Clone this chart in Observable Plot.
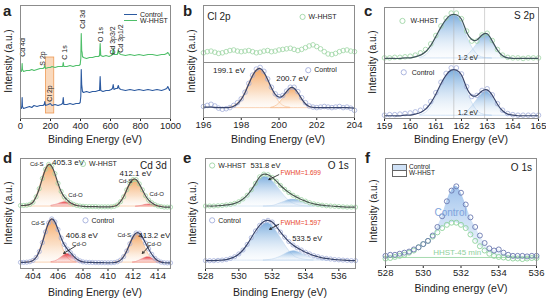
<!DOCTYPE html>
<html><head><meta charset="utf-8">
<script src="https://cdn.jsdelivr.net/npm/d3@7"></script>
<script src="https://cdn.jsdelivr.net/npm/@observablehq/plot@0.6"></script>
<style>
body{margin:0;background:#fff}
#root{position:relative;width:546px;height:298px;overflow:hidden;background:#fff;font-family:'Liberation Sans',Arial,Helvetica,sans-serif;color:#222}
.lbl{position:absolute;white-space:nowrap;line-height:1}
.letter{position:absolute;font-weight:bold;font-size:15px;line-height:1}
.ytitle{position:absolute;font-size:10px;white-space:nowrap;transform:translate(-50%,-50%) rotate(-90deg);line-height:1}
.xtitle{position:absolute;font-size:10.5px;white-space:nowrap;transform:translate(-50%,-50%);line-height:1}
.sw{position:absolute}
</style></head><body>
<div id="root">
<svg width="0" height="0" style="position:absolute">
<defs>
<linearGradient id="gOrange" x1="0" y1="0" x2="0" y2="1">
<stop offset="0" stop-color="#f29a4e" stop-opacity="0.9"/>
<stop offset="0.6" stop-color="#f8c79b" stop-opacity="0.55"/>
<stop offset="1" stop-color="#fdeee0" stop-opacity="0.2"/>
</linearGradient>
<linearGradient id="gRed" x1="0" y1="0" x2="0" y2="1">
<stop offset="0" stop-color="#e0202a" stop-opacity="0.95"/>
<stop offset="1" stop-color="#f7b7b7" stop-opacity="0.15"/>
</linearGradient>
<linearGradient id="gBlue" x1="0" y1="0" x2="0" y2="1">
<stop offset="0" stop-color="#5d9ad6" stop-opacity="0.8"/>
<stop offset="1" stop-color="#dbe9f7" stop-opacity="0.1"/>
</linearGradient>
<linearGradient id="gF" x1="0" y1="0" x2="0" y2="1">
<stop offset="0" stop-color="#93bbea" stop-opacity="0.9"/>
<stop offset="1" stop-color="#e3eefa" stop-opacity="0.5"/>
</linearGradient>
</defs>
</svg>
</div>
<script>
// ---------------- DATA ----------------
// (a) survey: energy (eV) and intensity (a.u.)
const surveyEnergy = [0,6,9,11,13,20,40,60,75,90,110,130,150,158,162,166,185,199,210,230,250,270,281,285,289,310,330,350,370,390,398,402,405,408,411,413,420,440,460,480,500,520,527,531,535,550,570,590,605,613,618,623,635,645,652,658,670,700,730,760,790,820,850,880,910,940,960,975,982,988,994,1000];
const surveyControl = [11,10,13,21,12,10,11,12,11,13,12,13,13,14,17,13,14,15,13,14,13,14,15,21,14,14,15,14,15,15,16,22,49,34,30,27,26,27,26,27,27,28,28,42,28,27,28,28,29,30,34,29,30,30,33,30,29,28,29,28,29,28,29,28,29,28,29,30,32,30,28,30];
const surveyWhhst = [47,47,50,55,49,47,48,48,49,48,49,50,50,51,53,50,51,51,52,51,52,52,52,56,52,52,53,52,53,53,54,60,85,68,66,62,61,60,61,61,62,62,63,75,63,62,63,62,63,64,70,64,64,64,68,65,64,63,64,63,64,63,64,64,63,64,64,65,66,65,63,64];
const surveyPeaks = [
  {t:"Cd 4d", x:13, y:71}, {t:"S 2p", x:150, y:60}, {t:"C 1s", x:292, y:66},
  {t:"Cd 3d", x:413, y:99}, {t:"O 1s", x:534, y:84}, {t:"Cd 3p3/2", x:618, y:78}, {t:"Cd 3p1/2", x:665, y:80}
];
const surveyCl = [{t:"Cl 2p", x:197, y:25}];
const clRegion = [{x1:170, x2:225, y1:5, y2:61}];

// (b) Cl 2p
const clEnergy = [196,196.2,196.4,196.6,196.8,197,197.2,197.4,197.6,197.8,198,198.2,198.4,198.6,198.8,199,199.2,199.4,199.6,199.8,200,200.2,200.4,200.6,200.8,201,201.2,201.4,201.6,201.8,202,202.2,202.4,202.6,202.8,203,203.2,203.4,203.6,203.8,204];
const clWhhst = [.17,.19,.20,.18,.16,.17,.19,.21,.22,.20,.19,.20,.21,.19,.17,.18,.20,.21,.19,.20,.22,.23,.24,.25,.23,.21,.23,.26,.29,.31,.28,.24,.19,.15,.14,.16,.19,.21,.22,.20,.19];
const clControl = [.20,.22,.24,.21,.17,.15,.16,.18,.22,.27,.34,.46,.62,.77,.88,.91,.84,.70,.55,.43,.38,.40,.48,.55,.55,.47,.36,.27,.21,.19,.18,.19,.20,.19,.18,.19,.20,.18,.19,.17,.13];
const clFit = [.19,.19,.19,.185,.18,.18,.18,.185,.205,.25,.33,.45,.61,.76,.86,.89,.82,.69,.54,.42,.37,.39,.47,.54,.53,.45,.34,.25,.20,.185,.18,.18,.18,.18,.18,.18,.18,.18,.18,.175,.17];
const clBase = 0.17;
const clComp1 = [[197.4,.184],[197.6,.205],[197.8,.25],[198,.33],[198.2,.45],[198.4,.61],[198.6,.76],[198.8,.86],[199,.89],[199.2,.82],[199.4,.685],[199.6,.53],[199.8,.39],[200,.29],[200.2,.22],[200.4,.19],[200.6,.18]];
const clComp2 = [[199.6,.178],[199.8,.20],[200,.25],[200.2,.34],[200.4,.45],[200.6,.53],[200.8,.53],[201,.45],[201.2,.34],[201.4,.25],[201.6,.20],[201.8,.178]];
const clTopLabels = [{t:"Cl 2p", x:196.2, y:.80}];
const clTopLegend = [{t:"W-HHST", x:201.25, y:.80}];
const clBotLabels = [{t:"199.1 eV", x:197.35, y:.86}, {t:"200.7 eV", x:200.7, y:.71}];
const clBotLegend = [{t:"Control", x:201.55, y:.86}];

// (c) S 2p
const sEnergy = [159,159.2,159.4,159.6,159.8,160,160.2,160.4,160.6,160.8,161,161.2,161.4,161.6,161.8,162,162.2,162.4,162.6,162.8,163,163.2,163.4,163.6,163.8,164,164.2,164.4,164.6,164.8,165];
const sTopFit = [.09,.09,.09,.09,.10,.10,.12,.15,.21,.32,.48,.65,.79,.87,.87,.79,.56,.43,.42,.51,.53,.40,.24,.14,.10,.09,.09,.09,.09,.09,.09];
const sTopDots = [.10,.10,.11,.11,.12,.13,.15,.19,.25,.35,.50,.67,.81,.90,.90,.80,.58,.40,.40,.51,.54,.41,.25,.15,.11,.10,.10,.09,.10,.10,.10];
const sBotFit = [.05,.05,.05,.05,.06,.06,.08,.11,.17,.28,.44,.63,.79,.88,.88,.79,.56,.42,.42,.50,.52,.42,.26,.14,.08,.06,.05,.05,.05,.05,.05];
const sBotDots = [.06,.07,.07,.08,.09,.10,.12,.15,.21,.31,.47,.66,.82,.92,.92,.81,.58,.40,.42,.51,.54,.43,.27,.15,.09,.07,.06,.06,.06,.06,.06];
const sTopBase = 0.09, sBotBase = 0.05;
const sTopMain = [[160.4,.10],[160.6,.14],[160.8,.24],[161,.40],[161.2,.60],[161.4,.76],[161.6,.85],[161.8,.85],[162,.75],[162.2,.50],[162.4,.30],[162.6,.17],[162.8,.11],[163,.095],[163.2,.09]];
const sTopSecond = [[162,.10],[162.2,.13],[162.4,.22],[162.6,.34],[162.8,.48],[163,.52],[163.2,.40],[163.4,.24],[163.6,.14],[163.8,.10],[164,.09]];
const sBotMain = [[160.4,.06],[160.6,.10],[160.8,.20],[161,.37],[161.2,.58],[161.4,.75],[161.6,.86],[161.8,.86],[162,.76],[162.2,.52],[162.4,.30],[162.6,.15],[162.8,.08],[163,.06],[163.2,.05]];
const sBotSecond = [[162,.06],[162.2,.11],[162.4,.21],[162.6,.33],[162.8,.45],[163,.49],[163.2,.39],[163.4,.23],[163.6,.12],[163.8,.07],[164,.05]];
const sPeakLines = [161.7, 162.9];
const sTopLabels = [{t:"S 2p", x:164.45, y:.86}];
const sSplit = [{t:"1.2 eV", x:162.25, y:.11}];
const sTopLegend = [{t:"W-HHST", x:159.7, y:.76}];
const sBotLegend = [{t:"Control", x:159.75, y:.84}];

// (d) Cd 3d
const cdEnergy = [403,403.25,403.5,403.75,404,404.25,404.5,404.75,405,405.25,405.5,405.75,406,406.25,406.5,406.75,407,407.25,407.5,407.75,408,408.25,408.5,408.75,409,409.25,409.5,409.75,410,410.25,410.5,410.75,411,411.25,411.5,411.75,412,412.25,412.5,412.75,413,413.25,413.5,413.75,414,414.25,414.5,414.75,415];
const cdTopFit = [.13,.13,.135,.15,.19,.29,.44,.63,.80,.89,.855,.72,.54,.39,.29,.23,.18,.15,.13,.12,.115,.11,.11,.11,.11,.105,.105,.105,.105,.105,.115,.14,.20,.29,.42,.54,.61,.61,.53,.42,.31,.23,.18,.145,.12,.11,.10,.10,.10];
const cdBotFit = [.11,.11,.113,.121,.144,.198,.302,.463,.654,.816,.885,.833,.696,.545,.427,.347,.282,.221,.169,.137,.118,.112,.11,.108,.106,.105,.104,.103,.102,.103,.106,.119,.15,.212,.314,.442,.565,.634,.63,.56,.455,.349,.254,.183,.137,.114,.103,.10,.10];
const cdTopBase = 0.11, cdBotBase = 0.105;
const cdTopS1 = [[403.25,.122],[403.5,.128],[403.75,.148],[404,.194],[404.25,.286],[404.5,.436],[404.75,.626],[405,.799],[405.25,.888],[405.5,.848],[405.75,.701],[406,.51],[406.25,.34],[406.5,.224],[406.75,.162],[407,.134],[407.25,.124]];
const cdTopO1 = [[405.5,.126],[405.75,.137],[406,.154],[406.25,.175],[406.5,.189],[406.75,.187],[407,.171],[407.25,.15],[407.5,.134],[407.75,.125]];
const cdTopS2 = [[410.25,.104],[410.5,.115],[410.75,.141],[411,.197],[411.25,.291],[411.5,.416],[411.75,.539],[412,.613],[412.25,.604],[412.5,.517],[412.75,.389],[413,.269],[413.25,.183],[413.5,.134],[413.75,.112],[414,.103]];
const cdTopO2 = [[412.25,.106],[412.5,.114],[412.75,.127],[413,.142],[413.25,.15],[413.5,.146],[413.75,.133],[414,.119],[414.25,.108],[414.5,.103]];
const cdBotS1 = [[403.5,.113],[403.75,.121],[404,.144],[404.25,.198],[404.5,.302],[404.75,.463],[405,.654],[405.25,.816],[405.5,.88],[405.75,.816],[406,.654],[406.25,.463],[406.5,.302],[406.75,.198],[407,.144],[407.25,.121],[407.5,.113]];
const cdBotO1 = [[405.5,.115],[405.75,.127],[406,.152],[406.25,.192],[406.5,.235],[406.75,.259],[407,.248],[407.25,.21],[407.5,.166],[407.75,.135],[408,.118]];
const cdBotS2 = [[410.5,.106],[410.75,.119],[411,.15],[411.25,.212],[411.5,.314],[411.75,.442],[412,.559],[412.25,.618],[412.5,.592],[412.75,.493],[413,.363],[413.25,.249],[413.5,.17],[413.75,.128],[414,.109],[414.25,.103]];
const cdBotO2 = [[412,.106],[412.25,.116],[412.5,.138],[412.75,.167],[413,.192],[413.25,.20],[413.5,.184],[413.75,.155],[414,.128],[414.25,.111],[414.5,.103]];
const cdTopSmall = [{t:"Cd-S", x:404.3, y:.90}, {t:"Cd-S", x:411.4, y:.59}, {t:"Cd-O", x:407.4, y:.33}, {t:"Cd-O", x:413.9, y:.35}];
const cdTopValues = [{t:"405.3 eV", x:406.8, y:.93}, {t:"412.1 eV", x:412.2, y:.73}];
const cdTopTitle = [{t:"Cd 3d", x:414.7, y:.87}];
const cdTopLegend = [{t:"W-HHST", x:408.0, y:.90}];
const cdBotSmall = [{t:"Cd-S", x:404.4, y:.82}, {t:"Cd-O", x:407.7, y:.44}, {t:"Cd-S", x:411.3, y:.59}, {t:"Cd-O", x:413.7, y:.44}];
const cdBotValues = [{t:"406.8 eV", x:407.9, y:.59}, {t:"413.2 eV", x:413.7, y:.59}];
const cdBotLegend = [{t:"Control", x:408.2, y:.86}];
const cdBotArrows = [{x1:407.4, y1:.40, x2:406.45, y2:.27}, {x1:413.3, y1:.40, x2:412.75, y2:.27}];

// (e) O 1s
const oEnergy = [528,528.25,528.5,528.75,529,529.25,529.5,529.75,530,530.25,530.5,530.75,531,531.25,531.5,531.75,532,532.25,532.5,532.75,533,533.25,533.5,533.75,534,534.25,534.5,534.75,535,535.25,535.5,535.75,536,536.25,536.5,536.75,537];
const oTopFit = [.12,.12,.12,.125,.13,.14,.15,.17,.20,.25,.32,.42,.54,.66,.71,.70,.65,.58,.50,.43,.37,.32,.28,.24,.21,.18,.16,.145,.135,.125,.12,.115,.11,.105,.10,.10,.10];
const oBotFit = [.14,.14,.14,.145,.15,.16,.18,.21,.26,.33,.43,.55,.67,.77,.84,.86,.83,.75,.65,.56,.48,.42,.37,.33,.29,.26,.23,.21,.19,.18,.17,.16,.155,.15,.145,.14,.14];
const oTopBase = 0.11, oBotBase = 0.14;
const oTopMain = [[529,.115],[529.5,.13],[530,.18],[530.25,.23],[530.5,.30],[530.75,.40],[531,.51],[531.25,.61],[531.5,.66],[531.75,.65],[532,.59],[532.25,.50],[532.5,.40],[532.75,.30],[533,.22],[533.25,.17],[533.5,.14],[534,.115],[534.5,.11]];
const oTopSecond = [[531.5,.11],[532,.12],[532.25,.14],[532.5,.17],[532.75,.20],[533,.23],[533.25,.24],[533.5,.23],[533.75,.20],[534,.17],[534.25,.14],[534.5,.12],[535,.11],[535.5,.11]];
const oBotMain = [[529,.145],[529.5,.17],[530,.23],[530.25,.29],[530.5,.38],[530.75,.49],[531,.61],[531.25,.72],[531.5,.79],[531.75,.81],[532,.77],[532.25,.67],[532.5,.55],[532.75,.43],[533,.32],[533.25,.24],[533.5,.19],[534,.155],[534.5,.145]];
const oBotSecond = [[531.5,.14],[532,.16],[532.25,.18],[532.5,.21],[532.75,.25],[533,.29],[533.25,.31],[533.5,.30],[533.75,.27],[534,.23],[534.25,.20],[534.5,.17],[535,.15],[535.5,.14]];
const oTopLegend = [{t:"W-HHST", x:528.4, y:.87}];
const oTopLabels = [{t:"531.8 eV", x:531.6, y:.87}];
const oTopTitle = [{t:"O 1s", x:536.6, y:.86}];
const oTopFwhm = [{t:"FWHM=1.699", x:532.5, y:.74}];
const oTopArrows = [{x1:532.4, y1:.70, x2:531.8, y2:.61}];
const oBotLegend = [{t:"Control", x:528.4, y:.86}];
const oBotFwhm = [{t:"FWHM=1.597", x:532.5, y:.82}];
const oBotArrows = [{x1:532.4, y1:.79, x2:531.85, y2:.70}];
const oBotLabels = [{t:"533.5 eV", x:534.1, y:.54}];

// (f) O 1s comparison
const fEnergy = [528,528.25,528.5,528.75,529,529.25,529.5,529.75,530,530.25,530.5,530.75,531,531.25,531.5,531.75,532,532.25,532.5,532.75,533,533.25,533.5,533.75,534,534.25,534.5,534.75,535,535.25,535.5,535.75,536];
const fControl = [.09,.10,.10,.11,.12,.13,.15,.17,.20,.23,.28,.36,.46,.60,.70,.74,.68,.57,.45,.36,.28,.21,.16,.14,.15,.12,.10,.09,.09,.09,.085,.09,.09];
const fWhhst = [.065,.07,.08,.09,.10,.12,.14,.17,.20,.23,.27,.31,.35,.38,.40,.40,.38,.35,.29,.23,.18,.14,.11,.09,.08,.075,.07,.065,.065,.06,.065,.07,.07];
const fBaseline = [0.075];
const fLabels = [{t:"Control", x:531.45, y:.49, c:"#7ea3dc", s:10}, {t:"HHST-45 min", x:531.8, y:.12, c:"#8fcf9b", s:8}, {t:"O 1s", x:535.2, y:.91, c:"#222", s:10}];

// ---------------- DRAWING ----------------
const root = document.getElementById("root");
const FONT = "'Liberation Sans', Arial, Helvetica, sans-serif";
const C_CTRL = "#a3aedb", C_WH = "#9ed5a5", C_FITC = "#39456b", C_FITW = "#4b5a52";

const xy = (xs, ys) => xs.map((x, i) => ({x, y: ys[i]}));
const pr = ps => ps.map(([x, y]) => ({x, y}));
const dots = (data, stroke, r = 2.3) => Plot.dot(data, {x: "x", y: "y", r, stroke, strokeWidth: 0.8, fill: "none"});
const fit = (data, stroke) => Plot.line(data, {x: "x", y: "y", stroke, strokeWidth: 1.2, curve: "natural"});
const comp = (data, base, fill, stroke) => Plot.areaY(data, {x: "x", y1: base, y2: "y", fill, stroke, strokeWidth: 0.6, curve: "natural"});
const txt = (data, o = {}) => Plot.text(data, {x: "x", y: "y", text: "t", fontSize: 7, fill: "#222", ...o});
const legend = (data, stroke, dx) => [
  Plot.dot(data, {x: "x", y: "y", r: 2.6, stroke, strokeWidth: 0.9, fill: "none"}),
  Plot.text(data, {x: "x", y: "y", text: "t", dx, textAnchor: "start", fontSize: 7, fill: "#222"})
];

function box(frame, xdomain, xticks, ydomain, axis, marks) {
  const [x0, x1, y0, y1] = frame;
  const mb = axis ? 14 : 0;
  const svg = Plot.plot({
    width: x1 - x0, height: y1 - y0 + mb,
    marginLeft: 0, marginRight: 0, marginTop: 0, marginBottom: mb,
    style: {background: "none", overflow: "visible", fontFamily: FONT, fontSize: "9.5px", color: "#222"},
    x: {domain: xdomain, ticks: xticks, tickSize: 3, tickPadding: 1, tickFormat: d => String(d), label: null, axis: axis ? "bottom" : null},
    y: {domain: ydomain, axis: null},
    marks: [...marks, Plot.frame({stroke: "#8c8c8c", strokeWidth: 1})]
  });
  svg.style.position = "absolute";
  svg.style.left = x0 + "px";
  svg.style.top = y0 + "px";
  root.appendChild(svg);
}

function html(cls, text, css) {
  const d = document.createElement("div");
  d.className = cls; d.textContent = text;
  Object.assign(d.style, css);
  root.appendChild(d);
  return d;
}

// (a)
box([20, 170, 5, 118], [0, 1000], [0, 200, 400, 600, 800, 1000], [0, 113], true, [
  Plot.rect(clRegion, {x1: "x1", x2: "x2", y1: "y1", y2: "y2", fill: "#f6c49a", fillOpacity: 0.65, stroke: "#ee9a55", strokeWidth: 0.8}),
  Plot.line(xy(surveyEnergy, surveyWhhst), {x: "x", y: "y", stroke: "#4fbf6a", strokeWidth: 1.1}),
  Plot.line(xy(surveyEnergy, surveyControl), {x: "x", y: "y", stroke: "#2c5aa0", strokeWidth: 1.1}),
  txt(surveyPeaks, {rotate: -90, fontSize: 7}),
  txt(surveyCl, {rotate: -90, fontSize: 7})
]);
// legend (a)
[["Control", "#2c5aa0", 15], ["W-HHST", "#4fbf6a", 21]].forEach(([t, c, y]) => {
  const l = document.createElement("div");
  Object.assign(l.style, {position: "absolute", left: "124px", top: (y - 1) + "px", width: "13px", height: "0", borderTop: "1.6px solid " + c});
  root.appendChild(l);
  html("lbl", t, {left: "140px", top: (y - 4) + "px", fontSize: "7px"});
});

// (b)
box([203, 354, 5, 62], [196, 204], [196, 198, 200, 202, 204], [0, 1], false, [
  dots(xy(clEnergy, clWhhst), C_WH),
  txt(clTopLabels, {textAnchor: "start", fontSize: 10}),
  ...legend(clTopLegend, C_WH, 6)
]);
box([203, 354, 62, 117], [196, 204], [196, 198, 200, 202, 204], [0, 1], true, [
  comp(pr(clComp1), clBase, "url(#gOrange)", "#f5b683"),
  comp(pr(clComp2), clBase, "url(#gOrange)", "#f5b683"),
  dots(xy(clEnergy, clControl), C_CTRL),
  fit(xy(clEnergy, clFit), C_FITC),
  txt(clBotLabels, {fontSize: 8}),
  ...legend(clBotLegend, C_CTRL, 6)
]);

// (c)
box([384, 538, 7, 63], [159, 165], [159, 160, 161, 162, 163, 164, 165], [0, 1], false, [
  comp(pr(sTopMain), sTopBase, "url(#gBlue)", "#b9d3ee"),
  comp(pr(sTopSecond), sTopBase, "url(#gBlue)", "#b9d3ee"),
  Plot.ruleX(sPeakLines, {stroke: "#b5b5b5", strokeWidth: 0.6}),
  dots(xy(sEnergy, sTopDots), C_WH),
  fit(xy(sEnergy, sTopFit), "#41545c"),
  txt(sTopLabels, {fontSize: 10}),
  txt(sSplit, {fontSize: 7}),
  ...legend(sTopLegend, C_WH, 8)
]);
box([384, 538, 63, 118], [159, 165], [159, 160, 161, 162, 163, 164, 165], [0, 1], true, [
  comp(pr(sBotMain), sBotBase, "url(#gBlue)", "#b9d3ee"),
  comp(pr(sBotSecond), sBotBase, "url(#gBlue)", "#b9d3ee"),
  Plot.ruleX(sPeakLines, {stroke: "#b5b5b5", strokeWidth: 0.6}),
  dots(xy(sEnergy, sBotDots), C_CTRL),
  fit(xy(sEnergy, sBotFit), C_FITC),
  txt(sSplit, {fontSize: 7}),
  ...legend(sBotLegend, C_CTRL, 8)
]);

// (d)
box([20, 170, 158, 212], [403, 415], [404, 406, 408, 410, 412, 414], [0, 1], false, [
  comp(pr(cdTopS1), cdTopBase, "url(#gOrange)", "#f5b683"),
  comp(pr(cdTopS2), cdTopBase, "url(#gOrange)", "#f5b683"),
  comp(pr(cdTopO1), cdTopBase, "url(#gRed)", "#ef8a8a"),
  comp(pr(cdTopO2), cdTopBase, "url(#gRed)", "#ef8a8a"),
  dots(xy(cdEnergy, cdTopFit), C_WH, 2.1),
  fit(xy(cdEnergy, cdTopFit), "#4d4d4d"),
  txt(cdTopSmall, {fontSize: 6}),
  txt(cdTopValues, {fontSize: 8}),
  txt(cdTopTitle, {fontSize: 10, textAnchor: "end"}),
  ...legend(cdTopLegend, C_WH, 6)
]);
box([20, 170, 212, 268], [403, 415], [404, 406, 408, 410, 412, 414], [0, 1], true, [
  comp(pr(cdBotS1), cdBotBase, "url(#gOrange)", "#f5b683"),
  comp(pr(cdBotS2), cdBotBase, "url(#gOrange)", "#f5b683"),
  comp(pr(cdBotO1), cdBotBase, "url(#gRed)", "#ef8a8a"),
  comp(pr(cdBotO2), cdBotBase, "url(#gRed)", "#ef8a8a"),
  dots(xy(cdEnergy, cdBotFit), C_CTRL, 2.1),
  fit(xy(cdEnergy, cdBotFit), C_FITC),
  txt(cdBotSmall, {fontSize: 6}),
  txt(cdBotValues, {fontSize: 8}),
  Plot.arrow(cdBotArrows, {x1: "x1", y1: "y1", x2: "x2", y2: "y2", stroke: "#111", strokeWidth: 0.8, headLength: 4}),
  ...legend(cdBotLegend, C_CTRL, 6)
]);

// (e)
box([205, 355, 158, 212], [528, 537], [528, 530, 532, 534, 536], [0, 1], false, [
  comp(pr(oTopMain), oTopBase, "url(#gBlue)", "#c3d9f0"),
  comp(pr(oTopSecond), oTopBase, "url(#gBlue)", "#c3d9f0"),
  dots(xy(oEnergy, oTopFit), C_WH, 2.1),
  fit(xy(oEnergy, oTopFit), C_FITW),
  txt(oTopLabels, {fontSize: 7.5}),
  txt(oTopTitle, {fontSize: 10, textAnchor: "end"}),
  txt(oTopFwhm, {fontSize: 6.5, textAnchor: "start", fill: "#e8452c"}),
  Plot.arrow(oTopArrows, {x1: "x1", y1: "y1", x2: "x2", y2: "y2", stroke: "#111", strokeWidth: 0.8, headLength: 4}),
  ...legend(oTopLegend, C_WH, 6)
]);
box([205, 355, 212, 268], [528, 537], [528, 530, 532, 534, 536], [0, 1], true, [
  comp(pr(oBotMain), oBotBase, "url(#gBlue)", "#c3d9f0"),
  comp(pr(oBotSecond), oBotBase, "url(#gBlue)", "#c3d9f0"),
  dots(xy(oEnergy, oBotFit), C_CTRL, 2.1),
  fit(xy(oEnergy, oBotFit), C_FITC),
  txt(oBotLabels, {fontSize: 7.5}),
  txt(oBotFwhm, {fontSize: 6.5, textAnchor: "start", fill: "#e8452c"}),
  Plot.arrow(oBotArrows, {x1: "x1", y1: "y1", x2: "x2", y2: "y2", stroke: "#111", strokeWidth: 0.8, headLength: 4}),
  ...legend(oBotLegend, C_CTRL, 6)
]);

// (f)
const fRows = fEnergy.map((x, i) => ({x, c: fControl[i], w: fWhhst[i]}));
box([385, 536, 158, 265], [528, 536], [528, 530, 532, 534, 536], [0, 1], true, [
  Plot.areaY(fRows, {x: "x", y1: "w", y2: "c", fill: "url(#gF)", curve: "natural"}),
  Plot.ruleY(fBaseline, {stroke: "#8fd09a", strokeWidth: 0.8}),
  Plot.dot(fRows, {x: "x", y: "w", r: 2.5, stroke: "#8fd39c", strokeWidth: 0.9, fill: "none"}),
  Plot.dot(fRows, {x: "x", y: "c", r: 2.5, stroke: "#6c79b0", strokeWidth: 0.9, fill: "none"}),
  Plot.text(fLabels, {x: "x", y: "y", text: "t", fill: "c", fontSize: "s"})
]);
// legend (f)
[["Control", "#cfe1f6", 164], ["W-HHST", "#ffffff", 170]].forEach(([t, c, y]) => {
  const s = document.createElement("div");
  s.className = "sw";
  Object.assign(s.style, {left: "392px", top: y + "px", width: "13px", height: "5px", background: c, border: "0.8px solid #666"});
  root.appendChild(s);
  html("lbl", t, {left: "409px", top: (y - 0.5) + "px", fontSize: "6.5px"});
});

// titles and letters
[["a", 3, 3], ["b", 183, 3], ["c", 364, 3], ["d", 3, 150], ["e", 183, 150], ["f", 365, 150]].forEach(([t, x, y]) =>
  html("letter", t, {left: x + "px", top: y + "px"}));
[[95, 139, "Binding Energy (eV)"], [278, 139, "Binding Energy (eV)"], [461, 139, "Binding Energy (eV)"],
 [95, 292, "Binding Energy (eV)"], [280, 292, "Binding Energy (eV)"], [461, 288, "Binding energy (eV)"]].forEach(([x, y, t]) =>
  html("xtitle", t, {left: x + "px", top: y + "px"}));
[[9, 61], [192, 61], [373, 62], [9, 213], [193, 213], [374, 211]].forEach(([x, y]) =>
  html("ytitle", "Intensity (a.u.)", {left: x + "px", top: y + "px"}));
</script>
</body></html>
